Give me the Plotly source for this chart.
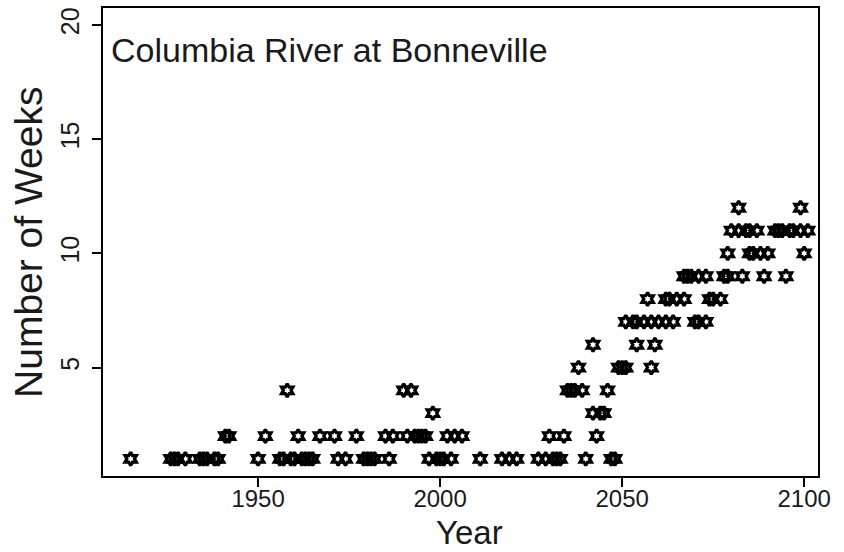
import plotly.graph_objects as go

# Years in which the river exceeded the threshold, grouped by number of weeks
years_1wk = [1915, 1926, 1927, 1928, 1930, 1934, 1935, 1936, 1938, 1939, 1950,
             1956, 1957, 1959, 1960, 1962, 1963, 1964, 1965, 1972, 1974,
             1979, 1980, 1981, 1982, 1986, 1997, 1999, 2000, 2001, 2003,
             2011, 2017, 2019, 2021, 2027, 2029, 2031, 2032, 2033, 2040,
             2047, 2048]
years_2wk = [1941, 1942, 1952, 1961, 1967, 1971, 1977, 1985, 1987, 1991, 1993,
             1994, 1995, 1996, 2002, 2004, 2006, 2030, 2034, 2043]
years_3wk = [1998, 2042, 2044, 2045]
years_4wk = [1958, 1990, 1992, 2035, 2036, 2037, 2039, 2046]
years_5wk = [2038, 2049, 2050, 2051, 2058]
years_6wk = [2042, 2054, 2059]
years_7wk = [2051, 2053, 2054, 2056, 2058, 2060, 2062, 2064, 2070, 2071, 2073]
years_8wk = [2057, 2062, 2063, 2065, 2067, 2074, 2075, 2077]
years_9wk = [2067, 2068, 2069, 2071, 2073, 2078, 2079, 2083, 2089, 2095]
years_10wk = [2079, 2085, 2086, 2088, 2090, 2100]
years_11wk = [2080, 2082, 2084, 2085, 2087, 2092, 2093, 2094, 2096, 2097, 2099, 2101]
years_12wk = [2082, 2099]

groups = [(1, years_1wk), (2, years_2wk), (3, years_3wk), (4, years_4wk),
          (5, years_5wk), (6, years_6wk), (7, years_7wk), (8, years_8wk),
          (9, years_9wk), (10, years_10wk), (11, years_11wk), (12, years_12wk)]

year = []
weeks = []
for n, yrs in groups:
    year += yrs
    weeks += [n] * len(yrs)

x_ticks = [1950, 2000, 2050, 2100]
y_ticks = [5, 10, 15, 20]

FONT = "Liberation Sans, Arial, Helvetica, sans-serif"
INK = "#1a1a1a"

fig = go.Figure(
    go.Scatter(
        x=year, y=weeks, mode="markers",
        marker=dict(symbol="hexagram-open", size=10, color="black",
                    line=dict(width=3.2, color="black")),
        showlegend=False,
    )
)

fig.update_layout(
    width=844, height=552,
    margin=dict(l=103, r=26, t=8, b=76, autoexpand=False),
    paper_bgcolor="white", plot_bgcolor="white",
    font=dict(family=FONT, color=INK),
    annotations=[
        # panel label
        dict(text="Columbia River at Bonneville", xref="paper", yref="paper",
             x=0.008, y=0.955, xanchor="left", yanchor="top", showarrow=False,
             font=dict(size=34, family=FONT, color=INK)),
        # axis titles
        dict(text="Year", xref="paper", yref="paper",
             x=0.512, y=-0.121, xanchor="center", yanchor="middle",
             showarrow=False, font=dict(size=33, family=FONT, color=INK)),
        dict(text="Number of Weeks", xref="paper", yref="paper",
             x=-0.105, y=0.5, xanchor="center", yanchor="middle",
             textangle=-90, showarrow=False,
             font=dict(size=39, family=FONT, color=INK)),
    ],
)

fig.update_xaxes(
    range=[1907.4, 2103.8], tickvals=x_ticks, ticks="outside", ticklen=9,
    tickwidth=1.5, tickcolor="black", tickfont=dict(size=24),
    ticklabelstandoff=-9,
    showgrid=False, zeroline=False, automargin=False,
    showline=True, linecolor="black", linewidth=2, mirror=True,
)
fig.update_yaxes(
    range=[0.25, 20.75], tickvals=y_ticks, ticks="outside", ticklen=9,
    tickwidth=1.5, tickcolor="black", tickfont=dict(size=25), tickangle=-90,
    ticklabelstandoff=3,
    showgrid=False, zeroline=False, automargin=False,
    showline=True, linecolor="black", linewidth=2, mirror=True,
)

fig.write_html("out.html")
